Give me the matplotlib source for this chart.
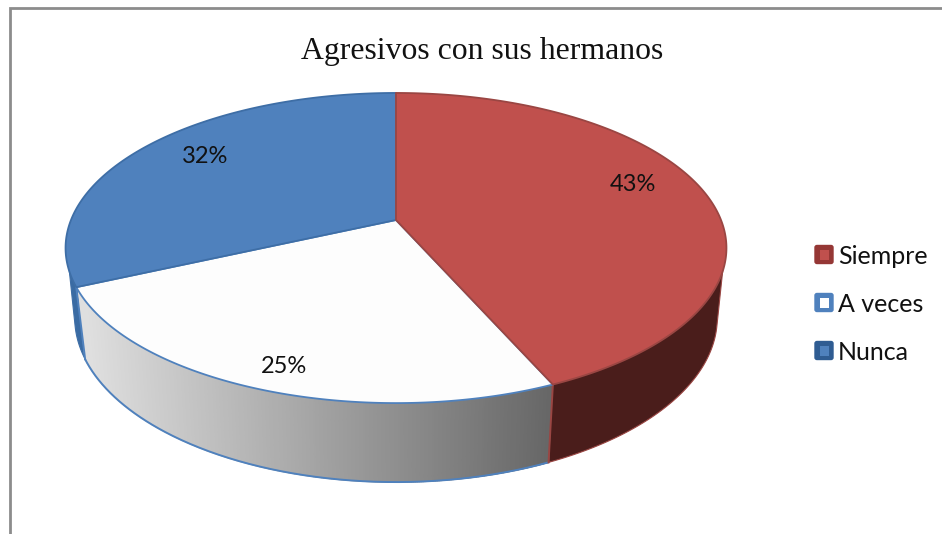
import numpy as np
import matplotlib
matplotlib.use("Agg")
import matplotlib.pyplot as plt
from matplotlib.collections import PolyCollection
from matplotlib.patches import FancyBboxPatch, Rectangle

title = "Agresivos con sus hermanos"
categories = ["Siempre", "A veces", "Nunca"]
values = [43.4, 24.8, 31.8]

face_colors = ["#C0504D", "#FDFDFD", "#4F81BD"]
edge_colors = ["#9A4643", "#4F81BD", "#3E6EA6"]
legend_outer = ["#953735", "#4F81BD", "#2F5C92"]
legend_inner = ["#C0504D", "#FFFFFF", "#4F81BD"]
wall_solid = ["#4A1D1B", None, "#3A6BA3"]
label_offsets = [(5, -13), (-13, 26), (0, -7)]

W, H = 942, 534
fig = plt.figure(figsize=(W / 100, H / 100), dpi=100)
ax = fig.add_axes([0, 0, 1, 1])
ax.set_xlim(0, W)
ax.set_ylim(H, 0)
ax.axis("off")

CX, K = 396.0, 0.1807
TOP = dict(a=325.0, b=150.0, y0=220.0)
BOT = dict(a=316.0, b=159.0, y0=288.0)


def project(t_deg, r=1.0, a=325.0, b=150.0, y0=220.0):
    t = np.radians(t_deg)
    X, Y = r * np.sin(t), r * np.cos(t)
    d = 1 + K * Y
    return CX + a * X / d, y0 - b * Y / d


def convex_hull(points):
    pts = sorted(set(map(tuple, points)))

    def half(seq):
        out = []
        for p in seq:
            while len(out) > 1 and ((out[-1][0] - out[-2][0]) * (p[1] - out[-2][1])
                                    - (out[-1][1] - out[-2][1]) * (p[0] - out[-2][0])) <= 0:
                out.pop()
            out.append(p)
        return out[:-1]

    return np.array(half(pts) + half(pts[::-1]))


shares = np.array(values) / np.sum(values) * 360
ends = np.cumsum(shares)
starts = ends - shares


def gray_at(xm):
    f = np.clip((xm - 84) / (553 - 84), 0, 1)
    g = 0.875 + (0.40 - 0.875) * f
    return (g, g, g)


# Walls of the cylinder (only the near side is visible)
for i in range(3):
    ts = np.linspace(max(starts[i], 60), min(ends[i], 300), 300)
    xt, yt = project(ts, r=0.995, **TOP)
    xb, yb = project(ts, **BOT)
    if wall_solid[i] is not None:
        hull = convex_hull(np.c_[np.r_[xt, xb], np.r_[yt, yb]])
        ax.fill(hull[:, 0], hull[:, 1], facecolor=wall_solid[i], edgecolor=edge_colors[i], lw=0.8, zorder=1.5)
    else:
        polys, cols = [], []
        for j in range(len(ts) - 1):
            polys.append([(xt[j], yt[j]), (xt[j + 1], yt[j + 1]), (xb[j + 1], yb[j + 1]), (xb[j], yb[j])])
            cols.append(gray_at((xt[j] + xt[j + 1]) / 2))
        ax.add_collection(PolyCollection(polys, facecolors=cols, edgecolors=cols, linewidths=1.0, zorder=2))
        vis = (yb > yt + 8)
        ax.plot(xb[vis], yb[vis], color=edge_colors[i], lw=1.4, zorder=3, solid_capstyle="round")

# Vertical seams between slices
for i, t in enumerate(ends):
    if 100 < t < 260:
        xa, ya = project(t, **TOP)
        xb, yb = project(t, **BOT)
        ax.plot([xa, xb], [ya, yb], color=edge_colors[0] if i == 0 else edge_colors[1], lw=1.4, zorder=3)

# Top faces
for i in range(3):
    ts = np.linspace(starts[i], ends[i], 240)
    xt, yt = project(ts, **TOP)
    xs = np.r_[CX, xt, CX]
    ys = np.r_[TOP["y0"], yt, TOP["y0"]]
    ax.fill(xs, ys, facecolor=face_colors[i], edgecolor=edge_colors[i], lw=1.3, joinstyle="round", zorder=4 + (i == 0))

# Percentage labels
for i in range(3):
    lx, ly = project((starts[i] + ends[i]) / 2, r=0.75, **TOP)
    ax.text(lx + label_offsets[i][0], ly + label_offsets[i][1], f"{values[i]:.0f}%",
            family="Lato", fontsize=17, color="#111111", ha="center", va="center", zorder=6)

ax.text(482, 51, title, family="Liberation Serif", fontsize=22.9, color="#111111",
        ha="center", va="center", zorder=6)

# Legend
for i, name in enumerate(categories):
    yc = 254.5 + 48 * i
    ax.add_patch(FancyBboxPatch((815, yc - 9), 18, 18, boxstyle="round,pad=0,rounding_size=2",
                                facecolor=legend_outer[i], edgecolor=legend_outer[i], lw=1, zorder=6))
    ax.add_patch(Rectangle((820, yc - 5), 9, 10, facecolor=legend_inner[i], edgecolor="none", zorder=7))
    ax.text(838, yc + 1.5, name, family="Lato", fontsize=18, color="#111111", ha="left", va="center", zorder=6)

# Frame
ax.plot([9.5, 9.5, W], [H, 8, 8], color="#8C8C8C", lw=2.0, solid_joinstyle="miter", zorder=1)

fig.savefig("out.png", dpi=100, facecolor="white")
